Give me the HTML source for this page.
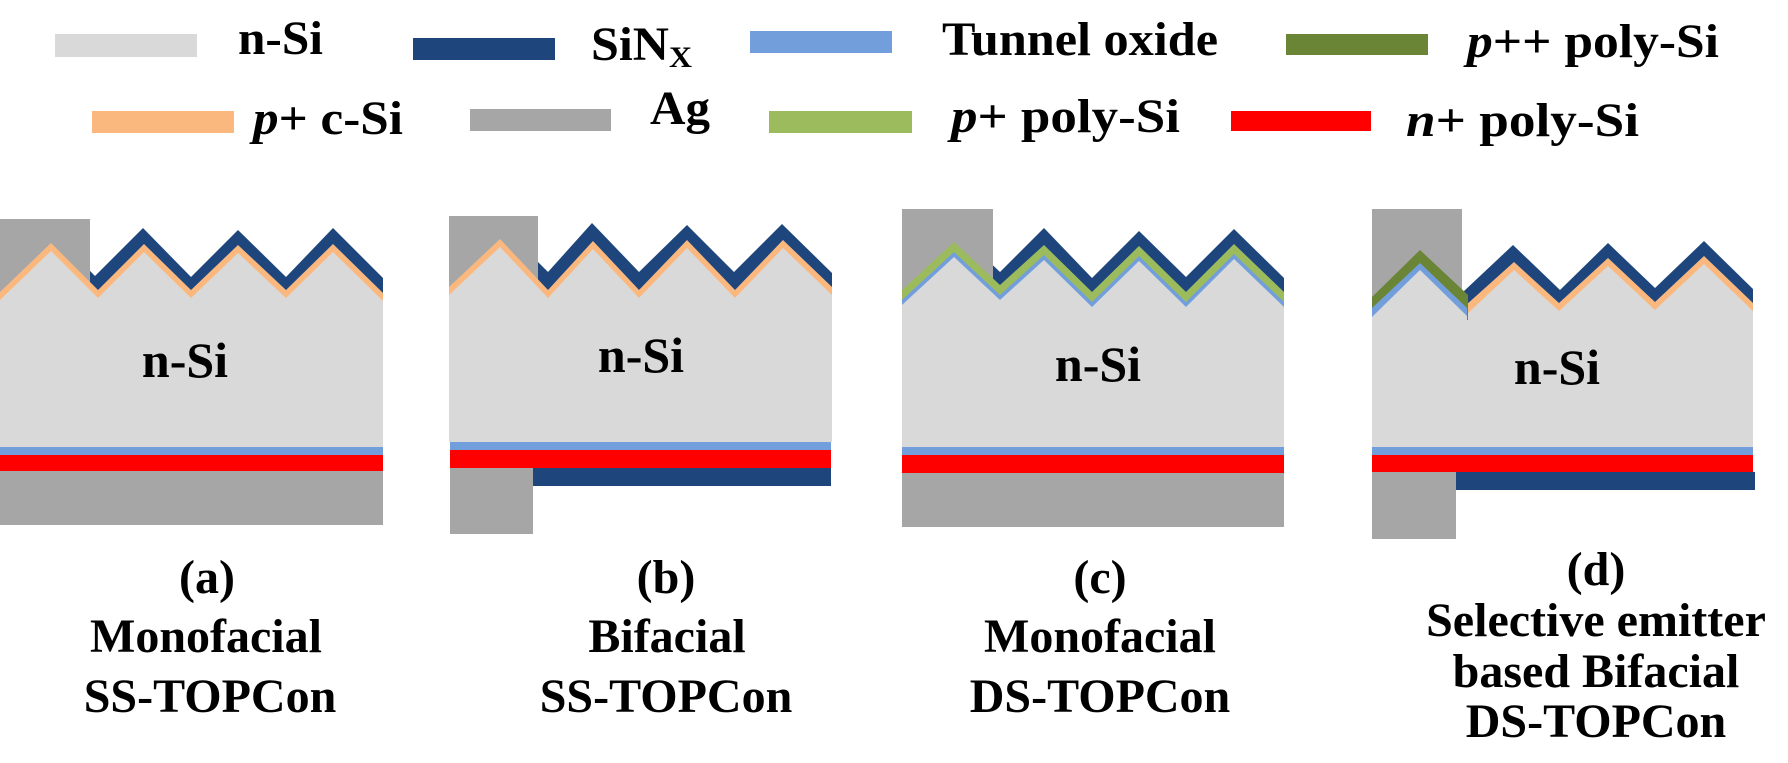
<!DOCTYPE html>
<html><head><meta charset="utf-8"><style>
html,body{margin:0;padding:0;background:#fff;}
svg{display:block;}
text{font-family:"Liberation Serif",serif;font-weight:bold;fill:#000;}
</style></head><body>
<svg width="1788" height="763" viewBox="0 0 1788 763" xmlns="http://www.w3.org/2000/svg">
<!-- Legend -->
<rect x="55" y="34" width="142" height="23" fill="#d9d9d9"/>
<text x="238" y="54" font-size="48" textLength="85" lengthAdjust="spacingAndGlyphs">n-Si</text>
<rect x="413" y="38" width="142" height="22" fill="#1f467c"/>
<text x="591" y="60" font-size="48" textLength="78" lengthAdjust="spacingAndGlyphs">SiN</text><text x="669" y="67" font-size="30" textLength="23" lengthAdjust="spacingAndGlyphs">X</text>
<rect x="750" y="31" width="142" height="22" fill="#729fdc"/>
<text x="942" y="55" font-size="48" textLength="276" lengthAdjust="spacingAndGlyphs">Tunnel oxide</text>
<rect x="1286" y="34" width="142" height="21" fill="#6a8536"/>
<text x="1467" y="57" font-size="48" textLength="252" lengthAdjust="spacingAndGlyphs"><tspan font-style="italic">p</tspan>++ poly-Si</text>

<rect x="92" y="111" width="142" height="22" fill="#fab87f"/>
<text x="253" y="134" font-size="48" textLength="150" lengthAdjust="spacingAndGlyphs"><tspan font-style="italic">p</tspan>+ c-Si</text>
<rect x="470" y="109" width="141" height="22" fill="#a6a6a6"/>
<text x="650" y="124" font-size="48" textLength="60" lengthAdjust="spacingAndGlyphs">Ag</text>
<rect x="769" y="111" width="143" height="22" fill="#9bbb5c"/>
<text x="951" y="132" font-size="48" textLength="229" lengthAdjust="spacingAndGlyphs"><tspan font-style="italic">p</tspan>+ poly-Si</text>
<rect x="1231" y="111" width="140" height="20" fill="#ff0000"/>
<text x="1406" y="136" font-size="48" textLength="233" lengthAdjust="spacingAndGlyphs"><tspan font-style="italic">n</tspan>+ poly-Si</text>

<!-- Panel a -->
<polygon points="0,320 48,228 95,276 143,228 191,277 238,230 286,277 333,228 383,278 383,320" fill="#1f467c"/>
<rect x="0" y="219" width="90" height="100" fill="#a6a6a6"/>
<polygon points="0,292 51,243 98,290 144,244 191,290 238,245 286,290 333,244 383,293 383,447 0,447" fill="#fab87f"/>
<polygon points="0,300 51,251 98,298 144,252 191,298 238,253 286,298 333,252 383,301 383,447 0,447" fill="#d9d9d9"/>
<rect x="0" y="447" width="383" height="8" fill="#729fdc"/>
<rect x="0" y="455" width="383" height="16" fill="#ff0000"/>
<rect x="0" y="471" width="383" height="54" fill="#a6a6a6"/>
<text x="185" y="377" font-size="50" text-anchor="middle">n-Si</text>

<!-- Panel b -->
<polygon points="449,320 500,224 548,272 592,223 639,272 687,225 734,272 782,224 832,273 832,320" fill="#1f467c"/>
<rect x="449" y="216" width="89" height="100" fill="#a6a6a6"/>
<polygon points="449,287 500,239 548,290 593,241 639,290 687,240 735,290 783,240 832,287 832,442 449,442" fill="#fab87f"/>
<polygon points="449,295 500,247 548,298 593,249 639,298 687,248 735,298 783,248 832,295 832,442 449,442" fill="#d9d9d9"/>
<rect x="450" y="442" width="381" height="8" fill="#729fdc"/>
<rect x="450" y="450" width="381" height="18" fill="#ff0000"/>
<rect x="450" y="468" width="83" height="66" fill="#a6a6a6"/>
<rect x="533" y="468" width="298" height="18" fill="#1f467c"/>
<text x="641" y="372" font-size="50" text-anchor="middle">n-Si</text>

<!-- Panel c -->
<polygon points="902,330 954,228 1000,272 1044,228 1092,278 1139,231 1186,277 1234,229 1284,278 1284,330" fill="#1f467c"/>
<rect x="902" y="209" width="91" height="100" fill="#a6a6a6"/>
<polygon points="902,290 954,242 1000,285 1044,245 1092,292 1139,246 1186,292 1234,244 1284,292 1284,447 902,447" fill="#9bbb5c"/>
<polygon points="902,300 954,252 1000,295 1044,255 1092,302 1139,256 1186,302 1234,254 1284,302 1284,447 902,447" fill="#729fdc"/>
<polygon points="902,305 954,257 1000,300 1044,260 1092,307 1139,261 1186,307 1234,259 1284,307 1284,447 902,447" fill="#d9d9d9"/>
<rect x="902" y="447" width="382" height="8" fill="#729fdc"/>
<rect x="902" y="455" width="382" height="18" fill="#ff0000"/>
<rect x="902" y="473" width="382" height="54" fill="#a6a6a6"/>
<text x="1098" y="381" font-size="50" text-anchor="middle">n-Si</text>

<!-- Panel d -->
<polygon points="1463,292 1513,245 1560,290 1608,243 1655,288 1704,241 1753,289 1753,304 1466,306" fill="#1f467c"/>
<rect x="1372" y="209" width="90" height="100" fill="#a6a6a6"/>
<polygon points="1466,305 1514,262 1559,303 1608,258 1655,302 1704,256 1753,303 1753,447 1466,447" fill="#fab87f"/>
<polygon points="1466,315 1514,270 1559,311 1608,266 1655,310 1704,264 1753,311 1753,447 1466,447" fill="#d9d9d9"/>
<polygon points="1372,297 1420,250 1468,295 1468,320 1372,320" fill="#6a8536"/>
<polygon points="1372,308 1420,263 1467,308 1467,320 1372,320" fill="#729fdc"/>
<polygon points="1372,317 1420,270 1467,316 1468,447 1372,447" fill="#d9d9d9"/>
<rect x="1372" y="447" width="381" height="8" fill="#729fdc"/>
<rect x="1372" y="455" width="381" height="17" fill="#ff0000"/>
<rect x="1372" y="472" width="84" height="67" fill="#a6a6a6"/>
<rect x="1456" y="472" width="299" height="18" fill="#1f467c"/>
<text x="1557" y="384" font-size="50" text-anchor="middle">n-Si</text>

<!-- Captions -->
<g font-size="48" text-anchor="middle">
<text x="207" y="593">(a)</text>
<text x="206" y="652">Monofacial</text>
<text x="210" y="712">SS-TOPCon</text>
<text x="666" y="593">(b)</text>
<text x="667" y="652">Bifacial</text>
<text x="666" y="712">SS-TOPCon</text>
<text x="1100" y="593">(c)</text>
<text x="1100" y="652">Monofacial</text>
<text x="1100" y="712">DS-TOPCon</text>
<text x="1596" y="585">(d)</text>
<text x="1596" y="636">Selective emitter</text>
<text x="1596" y="687">based Bifacial</text>
<text x="1596" y="737">DS-TOPCon</text>
</g>
</svg>
</body></html>
